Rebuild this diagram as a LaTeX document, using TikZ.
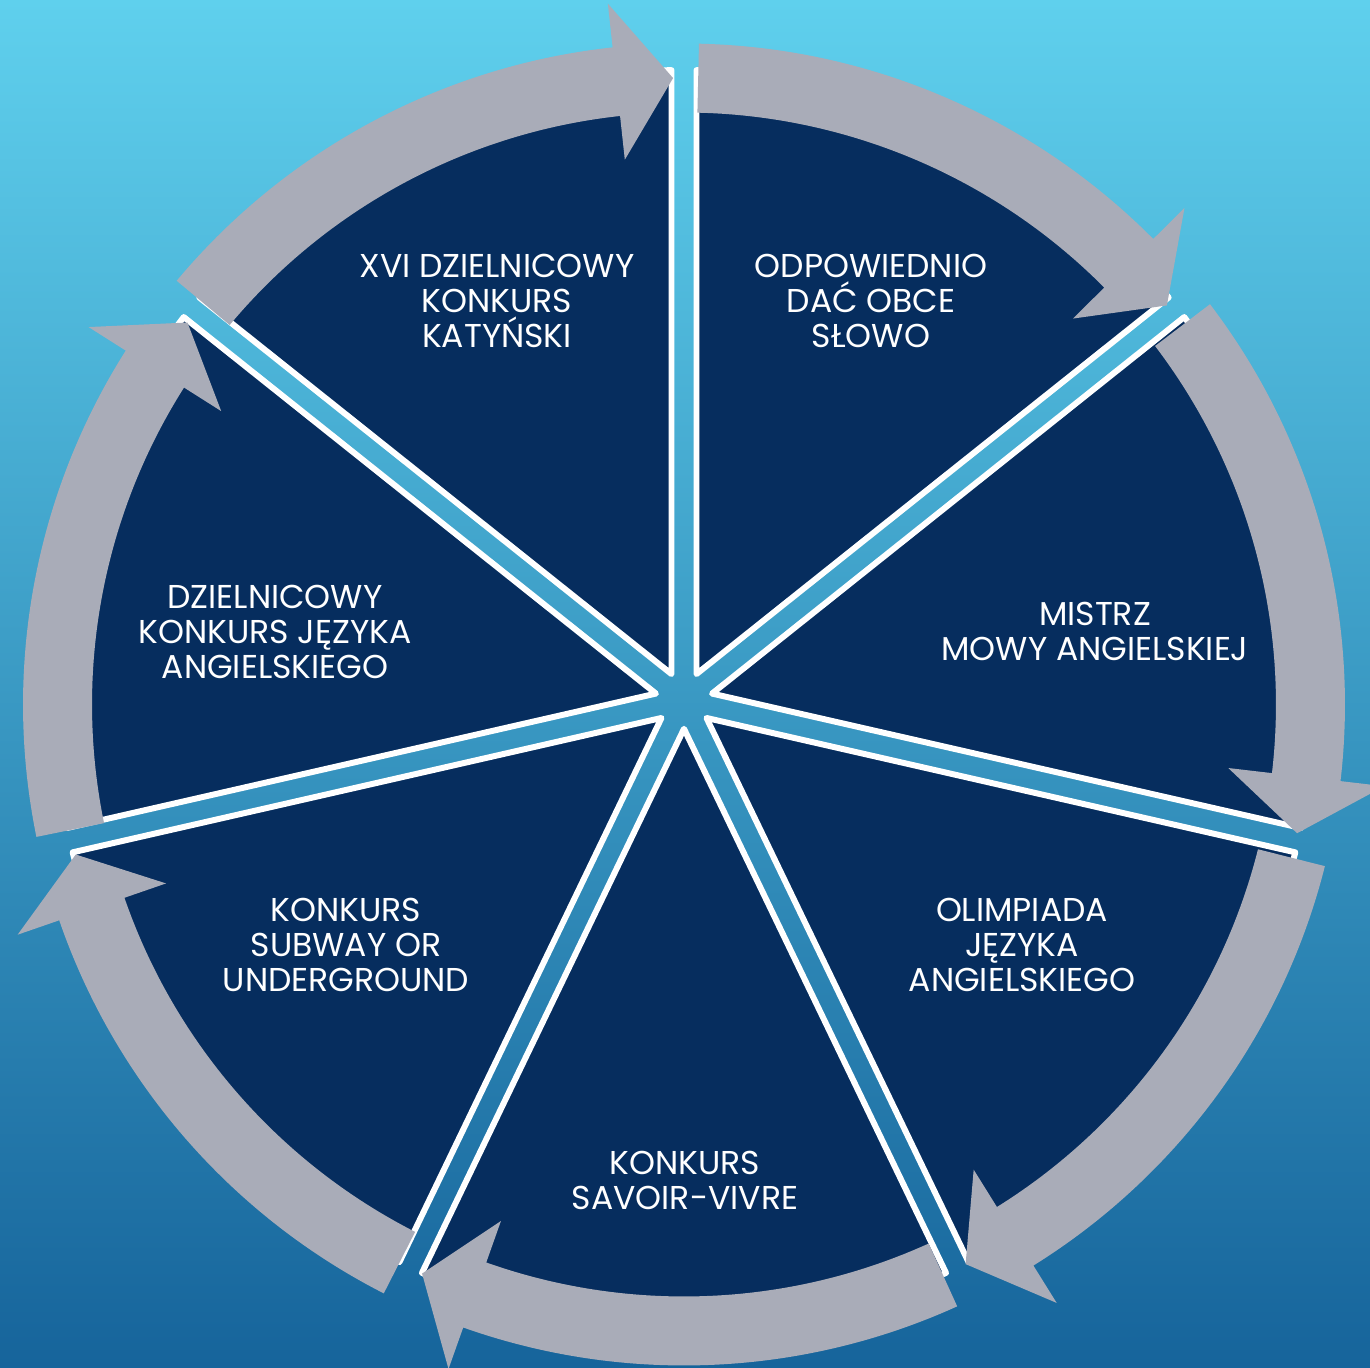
\documentclass[tikz,border=0pt]{standalone}
\usepackage{fontspec}
\setmainfont{Poppins}
\usetikzlibrary{calc}

\definecolor{bgtop}{RGB}{95,208,237}
\definecolor{bgbottom}{RGB}{22,100,155}
\definecolor{navy}{RGB}{6,45,94}
\definecolor{arrowgray}{RGB}{169,172,184}

\tikzset{
  sector/.style={fill=navy, draw=white, line width=1.7pt, line join=round},
  ring/.style={fill=arrowgray},
  label/.style={text=white, align=center, font=\fontsize{9.4}{9.96}\selectfont}
}

\begin{document}
\begin{tikzpicture}

    % Background
    \shade[top color=bgtop, bottom color=bgbottom] (-6.84,-6.68) rectangle (6.86,7.00);
    \useasboundingbox (-6.84,-6.68) rectangle (6.86,7.00);

    % Define the center of the circle and of the ring of arrows
    \coordinate (O) at (0,0);
    \coordinate (R) at (0,-0.045);

    % Draw the seven sectors
    \foreach \k in {1,...,7} {
        \pgfmathsetmacro{\sa}{141.4286-(\k-1)*51.4286}
        \pgfmathsetmacro{\sb}{\sa-51.4286}
        \pgfmathsetmacro{\sm}{(\sa+\sb)/2}
        \draw[sector] ($(O)+(\sm:0.288)$) -- ($(O)+(\sa-1.137:6.3)$)
            arc[start angle=\sa-1.137, end angle=\sb+1.137, radius=6.3] -- cycle;
    }

    % Draw the arrows round the circle
    \foreach \k in {1,...,7} {
        \pgfmathsetmacro{\tailang}{141.4286-(\k-1)*51.4286-1.3}
        \pgfmathsetmacro{\tipang}{141.4286-\k*51.4286+1.0}
        \pgfmathsetmacro{\headang}{\tipang+5.2}
        \fill[ring] ($(R)+(\tailang:6.61)$) arc[start angle=\tailang, end angle=\headang, radius=6.61]
            -- ($(R)+(\headang:7.05)$) -- ($(R)+(\tipang:6.265)$) -- ($(R)+(\headang:5.48)$)
            -- ($(R)+(\headang:5.92)$)
            arc[start angle=\headang, end angle=\tailang, radius=5.92] -- cycle;
    }

    % Labels
    \node[label] (katynski) at (-1.87,3.99) {XVI DZIELNICOWY\\KONKURS\\KATYŃSKI};
    \node[label] (slowo) at (1.87,3.99) {ODPOWIEDNIO\\DAĆ OBCE\\SŁOWO};
    \node[label] (mistrz) at (4.11,0.69) {MISTRZ\\MOWY ANGIELSKIEJ};
    \node[label] (olimpiada) at (3.38,-2.45) {OLIMPIADA\\JĘZYKA\\ANGIELSKIEGO};
    \node[label] (savoir) at (0.01,-4.80) {KONKURS\\SAVOIR-VIVRE};
    \node[label] (subway) at (-3.38,-2.45) {KONKURS\\SUBWAY OR\\UNDERGROUND};
    \node[label] (dzielnicowy) at (-4.09,0.68) {DZIELNICOWY\\KONKURS JĘZYKA\\ANGIELSKIEGO};

\end{tikzpicture}
\end{document}
